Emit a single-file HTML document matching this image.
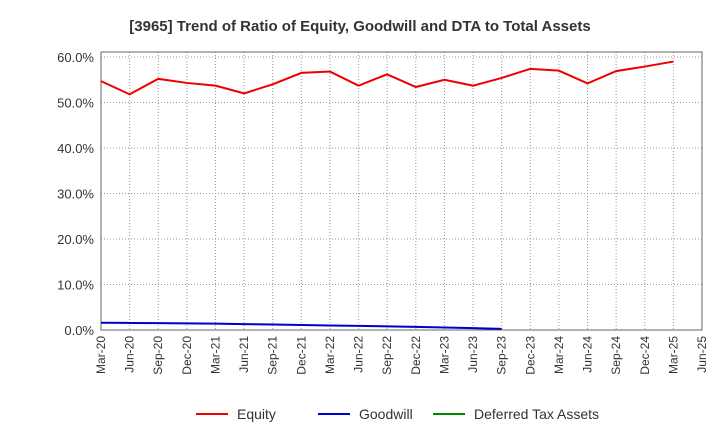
<!DOCTYPE html>
<html><head><meta charset="utf-8"><style>
body{margin:0;background:#fff;font-family:"Liberation Sans",sans-serif}
</style></head><body>
<svg id="chart" width="720" height="440" xmlns="http://www.w3.org/2000/svg" font-family="Liberation Sans, sans-serif">
<text x="360" y="31" text-anchor="middle" font-size="15" font-weight="bold" fill="#333">[3965]  Trend of Ratio of Equity, Goodwill and DTA to Total Assets</text>
<g id="grid"></g><g id="axes"></g><g id="series"></g>
<g font-size="14" fill="#333">
<g><line x1="196" y1="414" x2="228" y2="414" stroke="#e00" stroke-width="2"/><text x="237" y="419">Equity</text></g>
<g><line x1="318" y1="414" x2="350" y2="414" stroke="#00c" stroke-width="2"/><text x="359" y="419">Goodwill</text></g>
<g><line x1="433" y1="414" x2="465" y2="414" stroke="#080" stroke-width="2"/><text x="474" y="419">Deferred Tax Assets</text></g>
</g>
</svg>
<script>
const categories=["Mar-20","Jun-20","Sep-20","Dec-20","Mar-21","Jun-21","Sep-21","Dec-21","Mar-22","Jun-22","Sep-22","Dec-22","Mar-23","Jun-23","Sep-23","Dec-23","Mar-24","Jun-24","Sep-24","Dec-24","Mar-25","Jun-25"];
const equity=[54.7,51.8,55.2,54.3,53.7,52.0,54.0,56.5,56.8,53.7,56.2,53.4,55.0,53.7,55.4,57.4,57.0,54.2,56.9,57.9,59.0];
const goodwill=[1.6,1.55,1.5,1.45,1.4,1.3,1.2,1.1,1.0,0.9,0.8,0.7,0.55,0.4,0.25];
const dta=[];
const yTicks=[0,10,20,30,40,50,60];
const ns="http://www.w3.org/2000/svg";
const L=101,R=702,T=52,B=330;
const x=i=>L+i*(R-L)/(categories.length-1);
const y=v=>B-v*(B-57)/60;
function mk(t,a,p){const e=document.createElementNS(ns,t);for(const k in a)e.setAttribute(k,a[k]);p.appendChild(e);return e;}
const grid=document.getElementById('grid'),axes=document.getElementById('axes'),ser=document.getElementById('series');
categories.forEach((c,i)=>{
 const g=mk('line',{x1:x(i),x2:x(i),y1:T,y2:B,stroke:'#999','stroke-dasharray':'1,2','stroke-width':1},grid);
 
 
 const t=mk('text',{x:0,y:0,'font-size':12,fill:'#333','text-anchor':'end',transform:`translate(${x(i)+4},${B+6}) rotate(-90)`},axes);
 t.textContent=c;
 
 
});
yTicks.forEach(v=>{
 const g=mk('line',{x1:L,x2:R,y1:y(v),y2:y(v),stroke:'#999','stroke-dasharray':'1,2'},grid);
 
 
 const t=mk('text',{x:L-7,y:y(v)+5,'font-size':13,fill:'#333','text-anchor':'end'},axes);
 t.textContent=v.toFixed(1)+'%';
 
 
});
const fr=mk('rect',{x:L,y:T,width:R-L,height:B-T,fill:'none',stroke:'#666'},axes);


function line(arr,col,name){
 if(!arr.length)return;
 const p=mk('polyline',{points:arr.map((v,i)=>x(i)+','+y(v)).join(' '),fill:'none',stroke:col,'stroke-width':2},ser);
 
 
}
line(equity,'#e00','equity-line');
line(goodwill,'#00c','goodwill-line');
line(dta,'#080','dta-line');
</script>
</body></html>
